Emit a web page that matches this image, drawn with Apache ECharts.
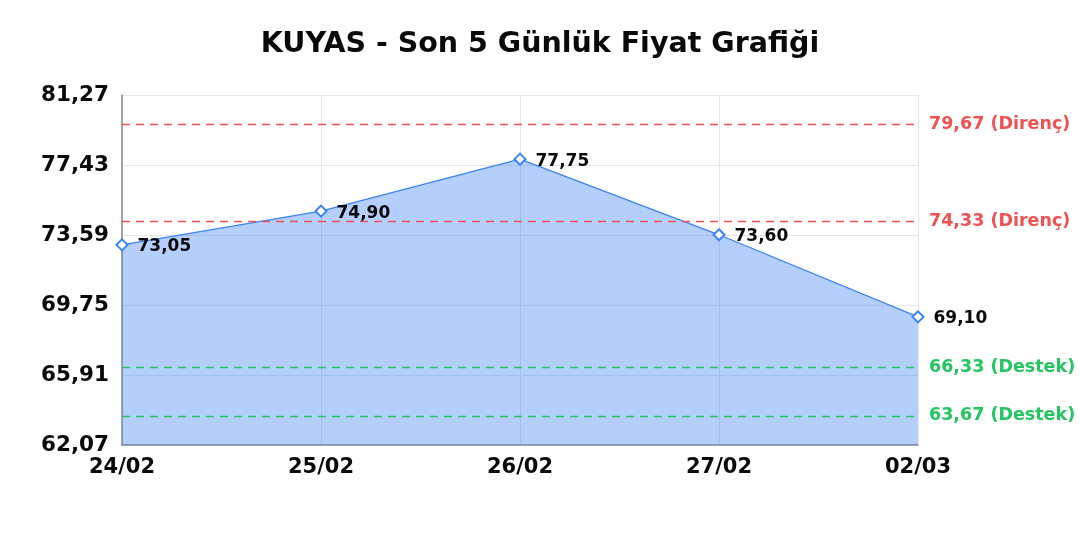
<!DOCTYPE html>
<html><head><meta charset="utf-8">
<script src="https://cdn.jsdelivr.net/npm/echarts@6/dist/echarts.min.js"></script>
<style>html,body{margin:0;padding:0;background:#fff}#c{width:1080px;height:540px}</style>
</head><body><div id="c"></div>
<script>
const title = 'KUYAS - Son 5 Günlük Fiyat Grafiği';
const categories = ['24/02', '25/02', '26/02', '27/02', '02/03'];
const prices = [73.05, 74.90, 77.75, 73.60, 69.10];
const resistance = [79.67, 74.33];
const support = [66.33, 63.67];
const yMin = 62.07, yMax = 81.27, yStep = 3.84;

const fmt = v => Number(v).toFixed(2).replace('.', ',');
const font = "'DejaVu Sans'";
const mk = (v, color, tag) => ({
  yAxis: v,
  lineStyle: { color: color, type: [8, 6], width: 1.3 },
  label: { show: true, position: 'end', formatter: fmt(v) + ' (' + tag + ')', color: color, fontFamily: font, fontWeight: 'bold', fontSize: 17.5, distance: 11 }
});

const chart = echarts.init(document.getElementById('c'));
chart.setOption({
  animation: false,
  title: { text: title, left: 'center', top: 25, textStyle: { fontFamily: font, fontWeight: 'bold', fontSize: 28.5, color: '#0a0a0a' } },
  grid: { left: 122, right: 162, top: 95, bottom: 95 },
  xAxis: {
    type: 'category', data: categories, boundaryGap: false,
    axisLine: { lineStyle: { color: '#888', width: 1.5 } },
    axisTick: { show: false },
    splitLine: { show: true, lineStyle: { color: '#e6e6e6' } },
    axisLabel: { color: '#0a0a0a', fontFamily: font, fontWeight: 'bold', fontSize: 21, margin: 12 }
  },
  yAxis: {
    type: 'value', min: yMin, max: yMax, interval: yStep,
    axisLine: { show: true, lineStyle: { color: '#888', width: 1.5 } },
    axisTick: { show: false },
    splitLine: { lineStyle: { color: '#e6e6e6' } },
    axisLabel: { formatter: fmt, color: '#0a0a0a', fontFamily: font, fontWeight: 'bold', fontSize: 21.5, margin: 13 }
  },
  series: [{
    type: 'line', data: prices,
    symbol: 'emptyDiamond', symbolSize: 11,
    lineStyle: { color: '#3b82f6', width: 1.2 },
    itemStyle: { color: '#3b82f6', borderWidth: 2 },
    areaStyle: { color: 'rgba(59,130,246,0.38)', opacity: 1 },
    label: { show: true, position: 'right', distance: 9, formatter: p => fmt(p.value), color: '#0a0a0a', fontFamily: font, fontWeight: 'bold', fontSize: 17, offset: [0, 2] },
    markLine: {
      silent: true, symbol: 'none',
      data: resistance.map(v => mk(v, '#f05252', 'Direnç')).concat(support.map(v => mk(v, '#22c55e', 'Destek')))
    }
  }]
});
</script></body></html>
